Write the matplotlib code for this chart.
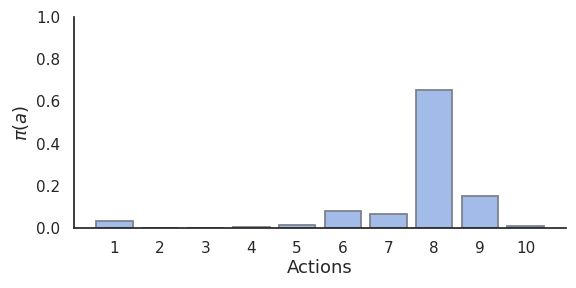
import matplotlib
matplotlib.use('Agg')
import matplotlib.pyplot as plt
import seaborn as sns

actions = [1, 2, 3, 4, 5, 6, 7, 8, 9, 10]
probs = [0.033, 0.0, 0.0, 0.004, 0.013, 0.08, 0.066, 0.654, 0.152, 0.008]

sns.set_theme(style='white', context='notebook')

fig, ax = plt.subplots(figsize=(5.76, 2.88), dpi=100)
ax.bar(actions, probs, width=0.8, color='#a2bbe8', edgecolor='#7d828c', linewidth=1.3)
ax.set_xticks(actions)
ax.set_ylim(0, 1)
ax.set_xlabel('Actions', fontsize=13, labelpad=2)
ax.set_ylabel(r'$\pi(a)$', fontsize=13, labelpad=4)
sns.despine()
plt.subplots_adjust(left=0.128, right=0.983, top=0.941, bottom=0.208)
plt.savefig('out.png', dpi=100)
